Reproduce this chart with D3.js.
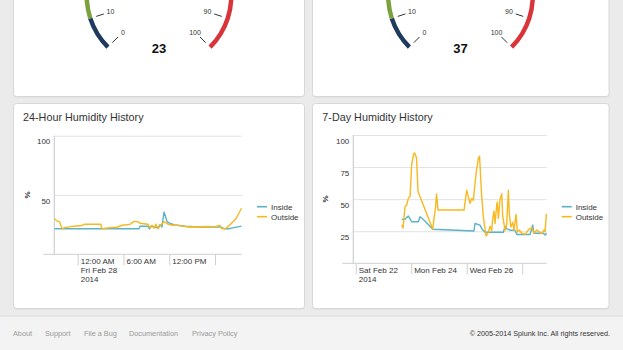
<!DOCTYPE html>
<html><head><meta charset="utf-8">
<script src="https://cdn.jsdelivr.net/npm/d3@7"></script>
<style>
html,body{margin:0;padding:0;background:#ebebeb;}
svg{display:block;font-family:"Liberation Sans",Arial,Helvetica,sans-serif;}
</style></head><body>
<svg id="c" width="623" height="350"></svg>
<script>
// ---------- DATA ----------
const gaugeValues = [23, 37];
const gaugeRangeStops = [0, 10, 50, 80, 100];
const gaugeRangeColors = ["#1f3a5f", "#7ba03c", "#f2b72b", "#d8343a"];
const gaugeTickValues = [0, 10, 20, 30, 40, 50, 60, 70, 80, 90, 100];

const seriesNames = ["Inside", "Outside"];
const seriesColors = ["#5ab2c8", "#f8b81f"];

const chart24Title = "24-Hour Humidity History";
const chart24Base = "2014-02-28T00:00:00";
const chart24DomainHours = [-3.07, 21.5];
const chart24YTicks = [50, 100];
const chart24XTickHours = [0, 6, 12, 18];
const chart24XTickLabels = [["12:00 AM", "Fri Feb 28", "2014"], ["6:00 AM"], ["12:00 PM"], []];

const inside24Hours = [-3.04, 8.03, 8.16, 9.21, 9.41, 9.61, 10.13, 10.52, 10.79, 11.05, 11.31, 11.51, 11.7, 12.1, 12.75, 14.06, 16.03, 18.78, 19.17, 19.83, 21.47];
const inside24Values = [21.6, 21.6, 23.6, 23.6, 21.4, 23.6, 23, 22, 25, 23, 35.5, 32, 27.5, 26, 24.8, 23.6, 23, 23, 21.6, 21.6, 23.8];

const outside24Hours = [-3.04, -2.71, -2.39, -2.06, -1.66, -0.75, 0.56, 0.83, 3.05, 3.12, 4.23, 5.15, 5.81, 6.85, 7.38, 7.9, 8.16, 9.21, 9.47, 9.74, 10.0, 10.26, 10.52, 10.92, 11.31, 11.57, 11.83, 12.36, 12.88, 13.41, 13.93, 14.46, 15.5, 16.03, 16.68, 17.99, 18.65, 18.91, 19.44, 19.96, 20.75, 21.47];
const outside24Values = [30, 28, 27.5, 21.6, 22.5, 23.5, 24.3, 25.3, 25.3, 21.6, 22.4, 22.8, 24.5, 25.2, 27.8, 27.5, 26.2, 25.3, 22.5, 24.5, 22, 25.5, 21.5, 25, 27.5, 26.5, 25.5, 24.5, 24.8, 24, 23.8, 23, 23.2, 23, 23.4, 23.2, 24.3, 21.5, 21.8, 25, 30, 38.8];

const chart7dTitle = "7-Day Humidity History";
const chart7dBase = "2014-02-22T00:00:00";
const chart7dDomainHours = [-2.1, 165.2];
const chart7dYTicks = [25, 50, 75, 100];
const chart7dXTickHours = [0, 48, 96, 144];
const chart7dXTickLabels = [["Sat Feb 22", "2014"], ["Mon Feb 24"], ["Wed Feb 26"], []];

const inside7dHours = [39.8, 42.6, 44.1, 45.5, 48.4, 54.2, 55.6, 59.9, 66.6, 102.3, 103.2, 107.5, 109, 111.9, 127.7, 129.2, 130.6, 133.5, 137.8, 139.3, 150.8, 153.1, 154.2, 162.3, 163.8, 165.2];
const inside7dValues = [34.3, 34.3, 35.8, 36.8, 32.4, 32.4, 36.3, 33, 26.5, 25.2, 31, 29.8, 27, 24.2, 24.2, 29, 27, 25.8, 25.8, 22.4, 22.4, 29.8, 23.4, 23.4, 22, 23.4];

const outside7dHours = [39.8, 40.9, 42.6, 44.1, 45.5, 47, 48.4, 50, 51, 52.6, 53.9, 55.6, 66.6, 67.7, 69, 69.9, 71.2, 93.7, 96, 97.4, 98.9, 100.3, 101.7, 104.1, 106.1, 107.1, 109, 110.4, 112.7, 114.7, 116.2, 117.6, 118.5, 119.6, 120.5, 122, 122.5, 123.4, 124.8, 126.3, 127.2, 129.2, 130.6, 132, 132.9, 134.1, 135.8, 136.9, 138.7, 139.8, 141.5, 143.6, 146.5, 149.3, 152.2, 154.2, 156.6, 158.8, 160.9, 162.9, 163.8, 164.9];
const outside7dValues = [29.9, 27.5, 44, 45.5, 50.6, 52, 76.6, 85, 86, 82, 55.8, 52, 26.5, 35, 43, 54, 41.5, 41.5, 57, 52, 46.8, 50.6, 49, 70, 81.8, 83.5, 52, 36.3, 21.3, 24, 29, 25.3, 35, 40.7, 31, 45.8, 47.8, 35, 49.5, 54.2, 36.3, 25.6, 30, 57, 39, 28.3, 32, 25.6, 38, 24.4, 26, 23.4, 22.6, 26, 27.8, 23.4, 26, 24.5, 23.4, 26, 24.5, 38.5];

const footerLinks = ["About", "Support", "File a Bug", "Documentation", "Privacy Policy"];
const footerCopyright = "© 2005-2014 Splunk Inc. All rights reserved.";

// ---------- DRAW ----------
const svg = d3.select("#c");
const W = 623, H = 350;
svg.append("rect").attr("width", W).attr("height", H).attr("fill", "#ebebeb");

// footer
svg.append("rect").attr("x", 0).attr("y", 316).attr("width", W).attr("height", H - 316).attr("fill", "#f3f3f3");
svg.append("line").attr("x1", 0).attr("x2", W).attr("y1", 316).attr("y2", 316).attr("stroke", "#dcdcdc");
const linkX = [13, 45, 84, 129, 192];
svg.append("g").selectAll("text").data(footerLinks).join("text")
  .attr("x", (d, i) => linkX[i]).attr("y", 336).attr("font-size", 7.3).attr("fill", "#9a9a9a").text(d => d);
svg.append("text").attr("x", 610).attr("y", 336).attr("text-anchor", "end").attr("font-size", 7.2)
  .attr("fill", "#333").text(footerCopyright);

function panel(x, y, w, h) {
  svg.append("rect").attr("x", x).attr("y", y + 1).attr("width", w).attr("height", h).attr("rx", 3).attr("fill", "#d9d9d9");
  svg.append("rect").attr("x", x).attr("y", y).attr("width", w).attr("height", h).attr("rx", 3)
    .attr("fill", "#fff").attr("stroke", "#d8d8d8");
}
panel(13.5, -10, 291, 106.5);
panel(312.5, -10, 296.5, 106.5);
panel(13.5, 103.5, 291, 205);
panel(312.5, 103.5, 296.5, 205);

// gauges (top of the panels is scrolled out of view; only what lies inside the window is labelled)
const gaugeCenters = [159, 460.5];
const angle = d3.scaleLinear().domain([0, 100]).range([-135 * Math.PI / 180, 135 * Math.PI / 180]);
const labelR = 51;
gaugeValues.forEach((val, gi) => {
  const cx = gaugeCenters[gi], cy = -4;
  const g = svg.append("g").attr("transform", `translate(${cx},${cy})`);
  const arc = d3.arc().innerRadius(70).outerRadius(74.5);
  const bands = d3.range(gaugeRangeColors.length).map(i => ({a: gaugeRangeStops[i], b: gaugeRangeStops[i + 1], c: gaugeRangeColors[i]}));
  g.selectAll("path.band").data(bands).join("path").attr("class", "band")
    .attr("d", d => arc({startAngle: angle(d.a), endAngle: angle(d.b)})).attr("fill", d => d.c);
  const visibleTicks = gaugeTickValues.filter(d => cy - 66 * Math.cos(angle(d)) > 0);
  g.selectAll("line.tk").data(visibleTicks).join("line").attr("class", "tk")
    .attr("x1", d => 58 * Math.sin(angle(d))).attr("y1", d => -58 * Math.cos(angle(d)))
    .attr("x2", d => 66 * Math.sin(angle(d))).attr("y2", d => -66 * Math.cos(angle(d)))
    .attr("stroke", "#333").attr("stroke-width", 1);
  const visibleLabels = gaugeTickValues.filter(d => cy - labelR * Math.cos(angle(d)) > 6);
  g.selectAll("text.tl").data(visibleLabels).join("text").attr("class", "tl")
    .attr("x", d => labelR * Math.sin(angle(d))).attr("y", d => -labelR * Math.cos(angle(d)))
    .attr("dy", "0.35em").attr("text-anchor", "middle").attr("font-size", 7).attr("fill", "#333").text(d => d);
  svg.append("text").attr("x", cx).attr("y", 52.5).attr("text-anchor", "middle")
    .attr("font-size", 13).attr("font-weight", "bold").attr("fill", "#111").text(val);
});

function rows(base, hours, values) {
  const b = new Date(base).getTime();
  return d3.zip(hours, values).map(([h, v]) => ({t: new Date(b + h * 36e5), v}));
}

function chart(cfg) {
  const b = new Date(cfg.base).getTime();
  const toDate = h => new Date(b + h * 36e5);
  const x = d3.scaleTime().domain(cfg.domainHours.map(toDate)).range([cfg.x0, cfg.x1]);
  const y = d3.scaleLinear().domain([0, 100]).range([cfg.y1, cfg.y0]);
  const g = svg.append("g");
  g.append("text").attr("x", cfg.titleX).attr("y", 120.5).attr("font-size", 10.8).attr("fill", "#333").text(cfg.title);
  const ya = g.append("g").attr("transform", `translate(${cfg.x0},0)`)
    .call(d3.axisLeft(y).tickValues(cfg.yTicks).tickSize(-(cfg.x1 - cfg.x0)).tickPadding(4));
  ya.select(".domain").remove();
  ya.selectAll(".tick line").attr("stroke", "#e2e2e2");
  ya.selectAll(".tick text").attr("dy", 8).attr("font-size", 8).attr("fill", "#333")
    .attr("font-family", "'Liberation Sans',Arial,sans-serif");
  g.append("line").attr("x1", cfg.x0).attr("x2", cfg.x0).attr("y1", cfg.y0).attr("y2", cfg.y1).attr("stroke", "#cfcfcf").attr("stroke-width", 1.2);
  const xa = g.append("g").attr("transform", `translate(0,${cfg.y1})`)
    .call(d3.axisBottom(x).tickValues(cfg.xTickHours.map(toDate)).tickSize(11).tickFormat(""));
  xa.select(".domain").remove();
  xa.selectAll(".tick line").attr("stroke", "#cfcfcf");
  g.append("line").attr("x1", cfg.x0 - 11).attr("x2", cfg.x1).attr("y1", cfg.y1).attr("y2", cfg.y1).attr("stroke", "#cfcfcf");
  cfg.xTickHours.forEach((h, i) => {
    const t = g.append("text").attr("x", x(toDate(h)) + 3).attr("y", cfg.y1 + 9.3).attr("font-size", 8).attr("fill", "#333");
    cfg.xTickLabels[i].forEach((s, j) => t.append("tspan").attr("x", x(toDate(h)) + 3).attr("dy", j ? 9.3 : 0).text(s));
  });
  g.append("text").attr("transform", `translate(${cfg.yTitleX},${cfg.yTitleY}) rotate(-90)`).attr("text-anchor", "middle")
    .attr("dy", "0.35em").attr("font-size", 8).attr("font-weight", "bold").attr("fill", "#333").text("%");
  const line = d3.line().x(d => x(d.t)).y(d => y(d.v));
  cfg.series.forEach((s, i) => {
    g.append("path").datum(s).attr("d", line).attr("fill", "none").attr("stroke", seriesColors[i])
      .attr("stroke-width", 1.4).attr("stroke-linejoin", "round");
  });
  seriesNames.forEach((n, i) => {
    const ly = 206.7 + i * 10;
    g.append("line").attr("x1", cfg.legendX).attr("x2", cfg.legendX + 10).attr("y1", ly).attr("y2", ly)
      .attr("stroke", seriesColors[i]).attr("stroke-width", 1.6);
    g.append("text").attr("x", cfg.legendX + 14).attr("y", ly).attr("dy", "0.35em").attr("font-size", 8).attr("fill", "#333").text(n);
  });
}

chart({
  title: chart24Title, titleX: 23, base: chart24Base, domainHours: chart24DomainHours,
  x0: 54.3, x1: 241.7, y0: 135.7, y1: 254.3, yTicks: chart24YTicks,
  xTickHours: chart24XTickHours, xTickLabels: chart24XTickLabels,
  yTitleX: 26.7, yTitleY: 195, legendX: 257,
  series: [rows(chart24Base, inside24Hours, inside24Values), rows(chart24Base, outside24Hours, outside24Values)]
});
chart({
  title: chart7dTitle, titleX: 322.3, base: chart7dBase, domainHours: chart7dDomainHours,
  x0: 353.3, x1: 546.7, y0: 135, y1: 263.3, yTicks: chart7dYTicks,
  xTickHours: chart7dXTickHours, xTickLabels: chart7dXTickLabels,
  yTitleX: 325, yTitleY: 199, legendX: 561.7,
  series: [rows(chart7dBase, inside7dHours, inside7dValues), rows(chart7dBase, outside7dHours, outside7dValues)]
});
</script>
</body></html>
